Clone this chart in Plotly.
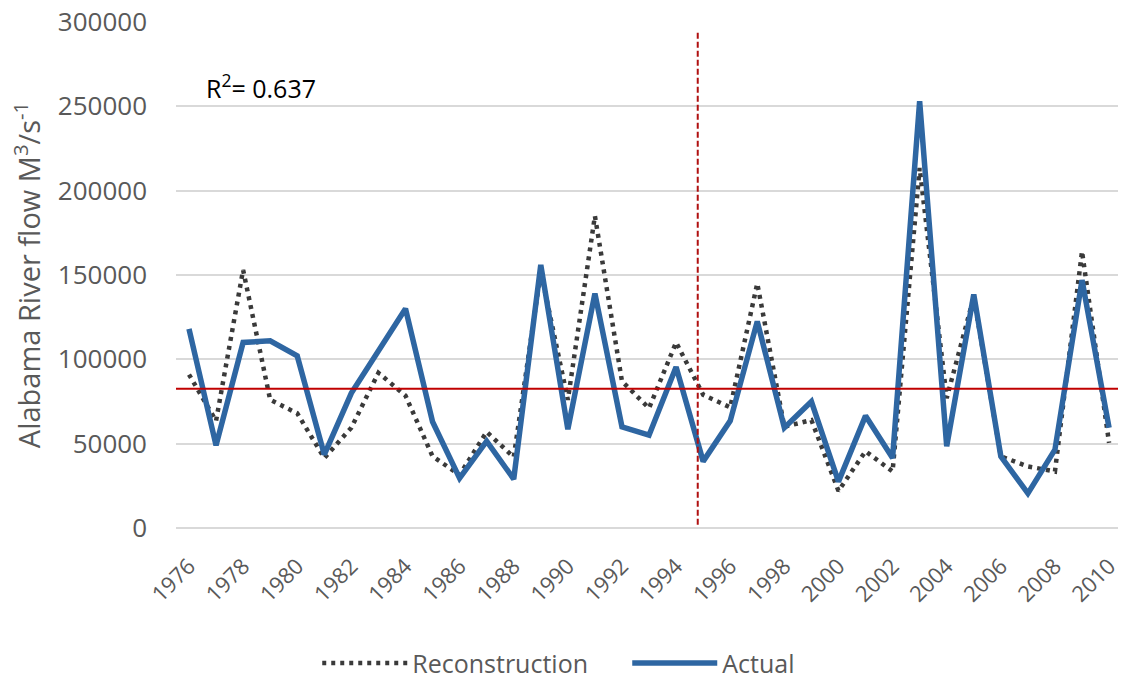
import plotly.graph_objects as go

# Annual Alabama River flow, 1976-2010
years = list(range(1976, 2011))
actual = [118000, 49000, 110000, 111000, 102000, 43500, 80000, 105000, 130000, 63000,
          29500, 51500, 29000, 156000, 58500, 139000, 60000, 55000, 95500, 39500,
          63500, 122500, 59500, 75000, 27500, 66500, 41500, 253000, 48500, 138500,
          42500, 20500, 46500, 147000, 59500]
reconstruction = [91000, 63500, 153000, 76000, 68000, 41500, 59500, 92000, 78500, 42500,
                  31500, 57000, 42000, 152000, 76000, 185000, 87000, 71000, 110000, 79000,
                  71500, 145000, 60000, 64000, 22000, 45500, 33500, 213500, 77000, 137000,
                  42500, 36500, 33500, 164000, 50500]

mean_flow = 82500          # long-term mean, horizontal reference
split_year = 1994.8        # calibration / verification split
r2_text = "R<sup>2</sup>= 0.637"

GRAY_TXT = "#595959"
FONT = "Open Sans"

fig = go.Figure()
fig.add_trace(go.Scatter(
    x=years, y=reconstruction, mode="lines", name="Reconstruction",
    line=dict(color="#3a3a3a", width=4.5, dash="4px,5px"),
))
fig.add_trace(go.Scatter(
    x=years, y=actual, mode="lines", name="Actual",
    line=dict(color="#2E66A2", width=5.5),
))

fig.add_shape(type="line", xref="paper", yref="y", x0=0, x1=1, y0=mean_flow, y1=mean_flow,
              line=dict(color="#C00000", width=2), layer="above")
fig.add_shape(type="line", xref="x", yref="y", x0=split_year, x1=split_year, y0=2000, y1=294000,
              line=dict(color="#B01010", width=2, dash="6px,3px"), layer="above")

fig.add_annotation(x=0.03, xref="paper", y=262000, yref="y", text=r2_text, showarrow=False,
                   xanchor="left", yanchor="middle",
                   font=dict(family=FONT, size=25, color="#000000"))

fig.update_layout(
    width=1121, height=681,
    margin=dict(l=176, r=0, t=22, b=153),
    plot_bgcolor="white", paper_bgcolor="white",
    font=dict(family=FONT, color=GRAY_TXT),
    showlegend=True,
    legend=dict(orientation="h", xref="container", yref="container",
                x=0.283, xanchor="left", y=0.026, yanchor="middle",
                font=dict(family=FONT, size=25, color=GRAY_TXT),
                itemwidth=85, entrywidth=210, entrywidthmode="pixels",
                bgcolor="rgba(0,0,0,0)"),
)

fig.update_xaxes(
    range=[1975.52, 2010.33], tick0=1976, dtick=2, tickangle=-45,
    showgrid=False, zeroline=False, showline=False, ticks="",
    tickfont=dict(family=FONT, size=22, color=GRAY_TXT),
    ticklabelstandoff=20, ticklabeloverflow="allow",
)
fig.update_yaxes(
    range=[0, 300000], dtick=50000, tickformat="d",
    showgrid=True, gridcolor="#D9D9D9", gridwidth=1.5,
    zeroline=True, zerolinecolor="#D9D9D9", zerolinewidth=1.5,
    showline=False, ticks="",
    tickfont=dict(family=FONT, size=26, color=GRAY_TXT),
    ticklabelstandoff=28,
    title=dict(text="Alabama River flow M<sup>3</sup>/s<sup>-1</sup>",
               font=dict(family=FONT, size=29, color=GRAY_TXT), standoff=8),
)

fig.write_html("out.html")
